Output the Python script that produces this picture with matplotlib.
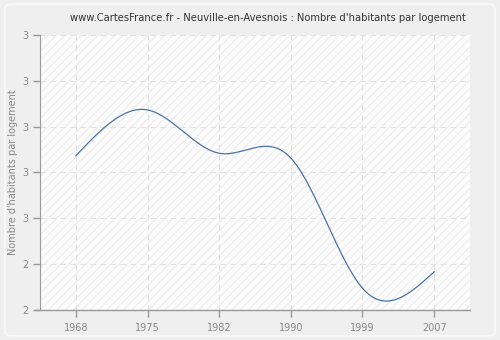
import numpy as np
import matplotlib
matplotlib.use("Agg")
import matplotlib.pyplot as plt
from matplotlib.patches import FancyBboxPatch

years = ["1968", "1975", "1982", "1990", "1999", "2007"]
values = [2.873, 3.073, 2.884, 2.863, 2.295, 2.367]
ytick_vals = [2.2, 2.4, 2.6, 2.8, 3.0, 3.2, 3.4]
ytick_labels = ["2", "2", "3", "3", "3", "3", "3"]
title = "www.CartesFrance.fr - Neuville-en-Avesnois : Nombre d'habitants par logement"
ylabel = "Nombre d'habitants par logement"


def natural_spline(x, y, n=400):
    x = np.asarray(x, float)
    y = np.asarray(y, float)
    k = len(x)
    h = np.diff(x)
    A = np.zeros((k, k))
    b = np.zeros(k)
    A[0, 0] = 1
    A[-1, -1] = 1
    for i in range(1, k - 1):
        A[i, i - 1] = h[i - 1]
        A[i, i] = 2 * (h[i - 1] + h[i])
        A[i, i + 1] = h[i]
        b[i] = 3 * ((y[i + 1] - y[i]) / h[i] - (y[i] - y[i - 1]) / h[i - 1])
    c = np.linalg.solve(A, b)
    xs = np.linspace(x[0], x[-1], n)
    ys = np.empty_like(xs)
    for j, xv in enumerate(xs):
        i = min(np.searchsorted(x, xv, side="right") - 1, k - 2)
        dx = xv - x[i]
        bi = (y[i + 1] - y[i]) / h[i] - h[i] * (2 * c[i] + c[i + 1]) / 3
        di = (c[i + 1] - c[i]) / (3 * h[i])
        ys[j] = y[i] + bi * dx + c[i] * dx ** 2 + di * dx ** 3
    return xs, ys


fig = plt.figure(figsize=(5, 3.4), dpi=100)
fig.patch.set_facecolor("#efefef")
border = FancyBboxPatch((0.01, 0.012), 0.98, 0.976, boxstyle="round,pad=0,rounding_size=0.015",
                        transform=fig.transFigure, facecolor="#efefef", edgecolor="#f8f8f8",
                        linewidth=1.5, zorder=-10)
fig.patches.append(border)

ax = fig.add_axes([0.08, 0.0882, 0.86, 0.809])
ax.set_facecolor("#fcfcfc")
ax.patch.set_hatch("////")
ax.patch.set_edgecolor("#efefef")
ax.patch.set_linewidth(0)

xi = np.arange(len(years))
xs, ys = natural_spline(xi, values)
ax.plot(xs, ys, color="#4a74a8", linewidth=0.9, zorder=3)

ax.set_xlim(-0.5, 5.5)
ax.set_ylim(2.2, 3.4)
ax.set_xticks(xi)
ax.set_xticklabels(years)
ax.set_yticks(ytick_vals)
ax.set_yticklabels(ytick_labels)

ax.grid(True, color="#e2e2e2", linestyle=(0, (5, 4)), linewidth=0.8)
ax.set_axisbelow(True)

for s in ["top", "right"]:
    ax.spines[s].set_visible(False)
ax.spines["left"].set_color("#999999")
ax.spines["bottom"].set_visible(False)
ax.plot([-0.012, 1], [0, 0], transform=ax.transAxes, color="#999999", linewidth=1, clip_on=False, zorder=4)

ax.tick_params(axis="both", colors="#999999", labelcolor="#888888", labelsize=7, length=5, width=1)
ax.tick_params(axis="x", pad=4)
ax.set_ylabel(ylabel, color="#888888", fontsize=7, labelpad=3)

fig.text(0.535, 0.948, title, ha="center", va="center", fontsize=7.2, color="#333333")

fig.savefig("out.png", dpi=100, facecolor=fig.get_facecolor())
